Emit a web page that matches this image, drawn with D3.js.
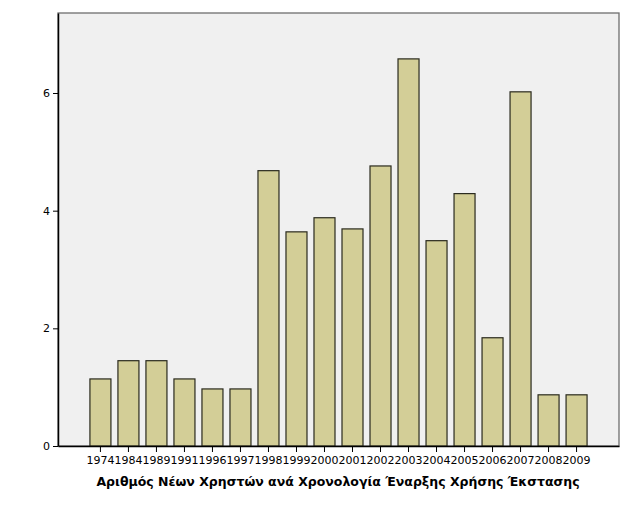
<!DOCTYPE html>
<html>
<head>
<meta charset="utf-8">
<script src="https://cdn.jsdelivr.net/npm/d3@7"></script>
<style>
  html, body { margin: 0; padding: 0; background: #ffffff; }
  svg { display: block; }
  text { font-family: "DejaVu Sans", Verdana, sans-serif; fill: #000; }
</style>
</head>
<body>
<div id="chart"></div>
<script>
const categories = ["1974","1984","1989","1991","1996","1997","1998","1999","2000","2001","2002","2003","2004","2005","2006","2007","2008","2009"];
const values = [1.14, 1.45, 1.45, 1.14, 0.97, 0.97, 4.68, 3.64, 3.88, 3.69, 4.76, 6.58, 3.49, 4.29, 1.84, 6.02, 0.87, 0.87];
const yTicks = [0, 2, 4, 6];
const xTitle = "Αριθμός Νέων Χρηστών ανά Χρονολογία Έναρξης Χρήσης Έκστασης";

const W = 631, H = 506;
const plot = { left: 58, right: 619, top: 13, bottom: 446 };

const svg = d3.select("#chart").append("svg").attr("width", W).attr("height", H);

const x = d3.scaleBand().domain(categories).range([plot.left, plot.right])
  .paddingInner(0.25).paddingOuter(1.14).align(0.5);
const y = d3.scaleLinear().domain([0, 7.36]).range([plot.bottom, plot.top]);

// plot background
svg.append("rect")
  .attr("x", plot.left).attr("y", plot.top)
  .attr("width", plot.right - plot.left).attr("height", plot.bottom - plot.top)
  .attr("fill", "#f0f0f0").attr("stroke", "#6e6e6e").attr("stroke-width", 1.3);

// bars
svg.append("g").selectAll("rect").data(categories).join("rect")
  .attr("x", d => x(d))
  .attr("y", (d, i) => y(values[i]))
  .attr("width", x.bandwidth())
  .attr("height", (d, i) => y(0) - y(values[i]))
  .attr("fill", "#d3ce97")
  .attr("stroke", "#2a2a1e")
  .attr("stroke-width", 1.2);

// y axis
const yAxis = svg.append("g").attr("transform", `translate(${plot.left},0)`)
  .call(d3.axisLeft(y).tickValues(yTicks).tickFormat(d3.format("d")).tickSize(5).tickSizeOuter(0).tickPadding(3));
yAxis.select(".domain").attr("stroke", "#000").attr("stroke-width", 1.5);
yAxis.selectAll(".tick line").attr("stroke", "#000");
yAxis.selectAll("text").style("font-size", "11px").attr("fill", "#000");

// x axis
const xAxis = svg.append("g").attr("transform", `translate(0,${plot.bottom})`)
  .call(d3.axisBottom(x).tickSize(6).tickPadding(4).tickSizeOuter(0));
xAxis.select(".domain").attr("stroke", "#000").attr("stroke-width", 1.5);
xAxis.selectAll(".tick line").attr("stroke", "#000");
xAxis.selectAll("text").style("font-size", "11px").attr("fill", "#000");

// axis title
svg.append("text")
  .attr("x", 338).attr("y", 486)
  .attr("text-anchor", "middle")
  .style("font-size", "12.5px").style("font-weight", "bold")
  .text(xTitle);
</script>
</body>
</html>
